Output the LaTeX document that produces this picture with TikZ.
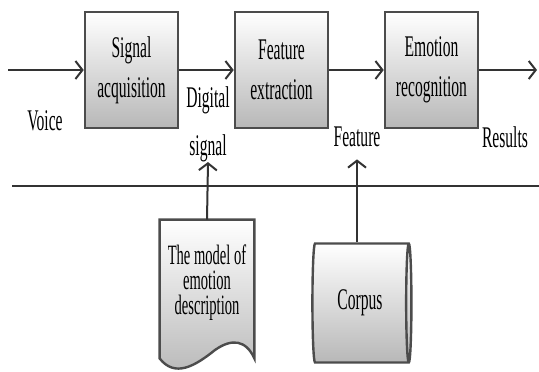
\documentclass[tikz,border=0pt]{standalone}
\usepackage{fontspec}
\setmainfont[FakeStretch=0.52]{Liberation Serif}
\usetikzlibrary{arrows.meta,shapes.geometric,positioning}

\begin{document}
\begin{tikzpicture}
	[
		x=0.5pt, y=-0.5pt,
		font=\fontsize{15}{20}\selectfont,
		>={Straight Barb[length=3.5pt,width=9pt]},
		W/.style = {line width=1pt, draw=black!80},
		B/.style = {rectangle, align=center, draw=black!70, line width=1.3pt, top color=white, bottom color=black!28, minimum width=46.5pt, minimum height=58pt, inner sep=0pt},
		L/.style = {rectangle, align=center, draw=none, fill=none, inner sep=0pt},
		D/.style = {draw=black!70, line width=1.2pt, top color=white, bottom color=black!28},
		C/.style = {cylinder, shape border rotate=0, aspect=0.2, align=center, draw=black!70, line width=1.2pt, top color=white, bottom color=black!28, minimum width=59.5pt, minimum height=49.5pt, inner sep=0pt},
	]

	\useasboundingbox (0,0) rectangle (539,371);

	% processing blocks
	\node[B] (sig) 	at ( 131.5, 70 ) {Signal\\acquisition};
	\node[B] (feat) at ( 281.5, 70 ) {Feature\\extraction};
	\node[B] (emo) 	at ( 431.5, 70 ) {Emotion\\recognition};

	% labels
	\node[L] (voice) 	at (  45, 121 ) {Voice};
	\node[L] (dig) 		at ( 208, 124 ) {Digital\\[4pt]signal};
	\node[L] (ftr) 		at ( 357, 137 ) {Feature};
	\node[L] (res) 		at ( 505, 137 ) {Results};

	% sources
	\node[L, minimum width=47pt, minimum height=69pt] (model) at ( 207, 289 ) {};
	\draw[D] (model.north west) -- (model.north east) -- (model.south east)
		.. controls (246,340) and (232,338) .. (215,350)
		.. controls (195,366) and (175,378) .. (model.south west) -- cycle;
	\node[L, font=\fontsize{14}{12.5}\selectfont] (mtext) at (207,283) {The model of\\emotion\\description};
	\node[C] (corp) at ( 360, 303 ) {Corpus};

	% end points
	\coordinate (vin) 	at (   8,  70 );
	\coordinate (vout) 	at ( 537,  70 );
	\coordinate (bl) 	at (  12, 186 );
	\coordinate (br) 	at ( 539, 186 );

	\foreach \from/\to in {vin/sig,sig/feat,feat/emo,emo/vout}
	\draw[W,->] (\from) -- (\to);

	\draw[W] (bl) -- (br);
	\draw[W,->] (model.north) -- (dig.south);
	\draw[W,->,shorten >=6pt] (corp.north -| ftr.south) -- (ftr.south);

\end{tikzpicture}
\end{document}
